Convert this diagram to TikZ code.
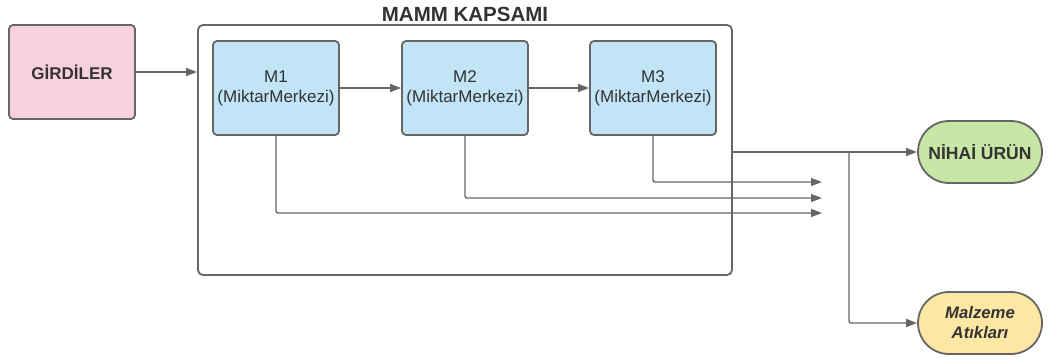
\documentclass[tikz,border=0pt]{standalone}
\usepackage{fontspec}
\setmainfont{Liberation Sans}
\usetikzlibrary{arrows.meta,shapes.misc}
\definecolor{lineg}{HTML}{666666}
\definecolor{pinkf}{HTML}{F9D1DD}
\definecolor{bluef}{HTML}{C2E4F7}
\definecolor{greenf}{HTML}{C8E6A6}
\definecolor{yellowf}{HTML}{FDE7A5}
\definecolor{txt}{HTML}{333333}
\tikzset{
  conn/.style={draw=lineg, line width=1.4pt, -{Triangle[length=11pt,width=8pt]}, rounded corners=2pt},
  mbox/.style={draw=lineg, line width=1.8pt, fill=bluef, rounded corners=4pt, minimum width=126pt, minimum height=94pt, inner sep=0pt, align=center, font=\fontsize{17}{20}\selectfont, text=txt},
  term/.style={draw=lineg, line width=1.8pt, rounded rectangle, minimum width=124pt, minimum height=62pt, inner sep=0pt, align=center, font=\fontsize{17.5}{20}\selectfont\bfseries, text=txt},
}
\begin{document}
\begin{tikzpicture}[x=1pt,y=-1pt]
\useasboundingbox (0,0) rectangle (1048,361);
% scope box
\node[draw=lineg, line width=1.8pt, rounded corners=5pt, minimum width=534pt, minimum height=250pt, inner sep=0pt] (scope) at (465,150) {};
\node[font=\fontsize{20.5}{22}\selectfont\bfseries, text=txt] (title) at (465,14) {MAMM KAPSAMI};
\node[draw=lineg, line width=1.8pt, fill=pinkf, rounded corners=4pt, minimum width=126pt, minimum height=94pt, inner sep=0pt, font=\fontsize{17}{20}\selectfont\bfseries, text=txt] (gir) at (72,72) {GİRDİLER};
\node[mbox] (m1) at (276,88) {M1\\(MiktarMerkezi)};
\node[mbox] (m2) at (465,88) {M2\\(MiktarMerkezi)};
\node[mbox] (m3) at (653,88) {M3\\(MiktarMerkezi)};
\node[term, fill=greenf] (nihai) at (980,152) {NİHAİ ÜRÜN};
\node[term, fill=yellowf, font=\fontsize{16.7}{20}\selectfont\bfseries\itshape] (atik) at (980,323) {Malzeme\\Atıkları};
\coordinate (e3) at (822,182);
\coordinate (e2) at (822,198);
\coordinate (e1) at (822,213);
\coordinate (split) at (849,152);
\draw[conn] (gir.east |- 0,72) -- (scope.west |- 0,72);
\draw[conn] (m1) -- (m2);
\draw[conn] (m2) -- (m3);
\draw[conn] (m3.south) |- (e3);
\draw[conn] (m2.south) |- (e2);
\draw[conn] (m1.south) |- (e1);
\draw[conn] (scope.east |- nihai) -- (nihai.west);
\draw[conn] (split) |- (atik.west);
\end{tikzpicture}
\end{document}
